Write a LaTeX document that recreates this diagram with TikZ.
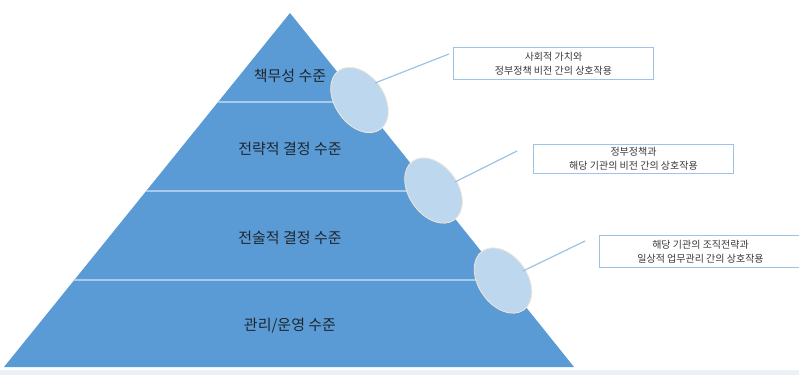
\documentclass[tikz,border=0pt]{standalone}
\usepackage{fontspec}
\newfontfamily\kr{Noto Sans CJK KR}
\usetikzlibrary{shapes.geometric}
\definecolor{pyr}{HTML}{5B9BD5}
\definecolor{lvl}{HTML}{A9CBEB}
\definecolor{ell}{HTML}{BDD7EE}
\definecolor{ellb}{HTML}{F2E6D6}
\definecolor{conn}{HTML}{9DC3E6}
\definecolor{band}{HTML}{EAF1F9}
\definecolor{txt}{HTML}{1E2630}
\definecolor{btxt}{HTML}{3A3A3A}
\tikzset{
  lvltext/.style={font=\kr\fontsize{15}{18}\selectfont, text=txt, inner sep=0pt},
  blob/.style={ellipse, fill=ell, draw=ellb, line width=0.8pt, minimum width=72pt, minimum height=49pt, rotate=-55, inner sep=0pt},
  infobox/.style={draw=conn, line width=1pt, fill=white, align=center, font=\kr\fontsize{10}{14}\selectfont, text=btxt, inner sep=0pt, anchor=north west},
  conline/.style={draw=conn, line width=1.2pt}
}
\begin{document}
\begin{tikzpicture}[x=1pt,y=-1pt]
\useasboundingbox (0,0) rectangle (799,375);
\fill[band] (0,369.5) rectangle (799,375);
% pyramid
\coordinate (apex) at (290,13);
\coordinate (bl) at (4,367);
\coordinate (br) at (574,367);
\fill[pyr] (apex) -- (br) -- (bl) -- cycle;
\begin{scope}
\clip (apex) -- (br) -- (bl) -- cycle;
\draw[lvl, line width=1.6pt] (0,102) -- (600,102);
\draw[lvl, line width=1.6pt] (0,191) -- (600,191);
\draw[lvl, line width=1.6pt] (0,280) -- (600,280);
\end{scope}
% level labels
\node[lvltext] (l1) at (290,76) {책무성 수준};
\node[lvltext] (l2) at (290,149) {전략적 결정 수준};
\node[lvltext] (l3) at (290,238) {전술적 결정 수준};
\node[lvltext] (l4) at (290,326) {관리/운영 수준};
% info boxes
\node[infobox, minimum width=200pt, minimum height=32pt] (b1) at (453,47) {사회적 가치와\\정부정책 비전 간의 상호작용};
\node[infobox, minimum width=200pt, minimum height=29pt] (b2) at (533,144) {정부정책과\\해당 기관의 비전 간의 상호작용};
\node[infobox, minimum width=202pt, minimum height=32pt] (b3) at (599,235) {해당 기관의 조직전략과\\일상적 업무관리 간의 상호작용};
% ellipses
\node[blob] (e1) at (359.5,100) {};
\node[blob] (e2) at (433.5,190.5) {};
\node[blob] (e3) at (503,280.5) {};
% connectors
\coordinate (s1) at (375,83);
\coordinate (t1) at (449,54);
\coordinate (s2) at (455,182);
\coordinate (t2) at (517,151);
\coordinate (s3) at (523,271);
\coordinate (t3) at (585,241);
\draw[conline] (s1) -- (t1);
\draw[conline] (s2) -- (t2);
\draw[conline] (s3) -- (t3);
\end{tikzpicture}
\end{document}
